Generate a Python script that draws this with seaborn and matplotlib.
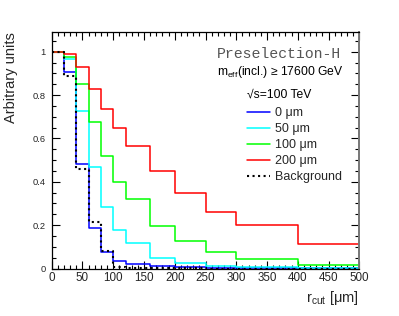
import numpy as np
import pandas as pd
import matplotlib
matplotlib.use("Agg")
import matplotlib.pyplot as plt
import seaborn as sns
from matplotlib.lines import Line2D
from matplotlib.ticker import MultipleLocator, FuncFormatter

# ---------------- data ----------------
bin_edges = [0, 20, 40, 60, 80, 100, 120, 160, 200, 250, 300, 400, 500]
eff_0um = [1.0, 0.907, 0.484, 0.185, 0.075, 0.036, 0.019, 0.010, 0.005, 0.003, 0.002, 0.001]
eff_50um = [1.0, 0.965, 0.727, 0.467, 0.285, 0.176, 0.116, 0.048, 0.024, 0.011, 0.006, 0.004]
eff_100um = [1.0, 0.975, 0.850, 0.676, 0.519, 0.400, 0.319, 0.198, 0.128, 0.075, 0.042, 0.016]
eff_200um = [1.0, 0.988, 0.931, 0.830, 0.735, 0.647, 0.565, 0.449, 0.347, 0.259, 0.199, 0.112]
eff_bkg = [1.0, 0.888, 0.458, 0.216, 0.081, 0.005, 0.002, 0.001, 0.0005, 0.0, 0.0, 0.0]
series_labels = ["0 \u03bcm", "50 \u03bcm", "100 \u03bcm", "200 \u03bcm", "Background"]
x_ticks = [0, 50, 100, 150, 200, 250, 300, 350, 400, 450, 500]
y_ticks = [0, 0.2, 0.4, 0.6, 0.8, 1.0]

sns.set_theme(style="ticks")
plt.rcParams["font.family"] = ["Liberation Sans", "DejaVu Sans"]
plt.rcParams["mathtext.fontset"] = "custom"
plt.rcParams["mathtext.rm"] = "Liberation Sans"
plt.rcParams["mathtext.it"] = "Liberation Sans:italic"

fig = plt.figure(figsize=(3.99, 3.16), dpi=100)
ax = fig.add_axes([51.7 / 399, 1 - 268.5 / 316, (359.3 - 51.7) / 399, (268.5 - 32.3) / 316])

centers = [0.5 * (a + b) for a, b in zip(bin_edges[:-1], bin_edges[1:])]

series = [eff_0um, eff_50um, eff_100um, eff_200um, eff_bkg]
colors = ["#0000ff", "#00ffff", "#00ff00", "#ff0000", "#000000"]
styles = ["-", "-", "-", "-", ":"]
widths = [1.1, 1.1, 1.1, 1.1, 1.5]

for vals, c, ls, lw in zip(series, colors, styles, widths):
    df = pd.DataFrame({"r": centers, "w": vals})
    sns.histplot(data=df, x="r", weights="w", bins=list(bin_edges), element="step",
                 fill=False, color=c, linestyle=ls, linewidth=lw, ax=ax)

ax.set_xlim(0, 500)
ax.set_ylim(0, 1.09)
ax.set_xticks(x_ticks)
ax.set_yticks(y_ticks)
ax.xaxis.set_minor_locator(MultipleLocator(10))
ax.yaxis.set_minor_locator(MultipleLocator(0.05))
ax.yaxis.set_major_formatter(FuncFormatter(lambda v, p: "%g" % v))
ax.tick_params(axis="both", which="both", direction="in", top=True, right=True,
               color="black", width=0.8)
ax.tick_params(axis="both", which="major", length=5.5)
ax.tick_params(axis="both", which="minor", length=2.7)
ax.tick_params(axis="x", which="major", labelsize=8.4, pad=2.5)
ax.tick_params(axis="y", which="major", labelsize=6.7, pad=4.5)
for s in ["left", "bottom", "top"]:
    ax.spines[s].set_linewidth(0.9)
    ax.spines[s].set_color("black")
ax.spines["right"].set_linewidth(1.4)
ax.spines["right"].set_color("#777777")

ax.set_ylabel("Arbitrary units", fontsize=10.5, loc="top")
ax.yaxis.set_label_coords(-0.11, 1.0)
ax.set_xlabel("r$_{\\mathrm{cut}}$ [\u03bcm]", fontsize=10.5, loc="right")
ax.xaxis.set_label_coords(1.0, -0.085)

fig.text(217 / 399, 1 - 54 / 316, "Preselection-H", family=["Liberation Mono", "DejaVu Sans Mono"],
         fontsize=10.7, color="#555555", va="center", ha="left")
fig.text(217 / 399, 1 - 72 / 316, "m$_{\\mathrm{eff}}$(incl.) \u2265 17600 GeV",
         fontsize=8.7, color="black", va="center", ha="left")
fig.text(247 / 399, 1 - 94.5 / 316, "\u221as=100 TeV", fontsize=8.7, color="black",
         va="center", ha="left")

handles = [Line2D([], [], color=c, linestyle=ls, linewidth=lw)
           for c, ls, lw in zip(colors, styles, widths)]
leg = ax.legend(handles, series_labels, loc="upper left",
                bbox_to_anchor=(247 / 399, 1 - 107 / 316), bbox_transform=fig.transFigure,
                frameon=False, fontsize=9.0, handlelength=1.85, handletextpad=0.42,
                labelspacing=0.32, borderpad=0, borderaxespad=0)

fig.savefig("out.png", dpi=100)
